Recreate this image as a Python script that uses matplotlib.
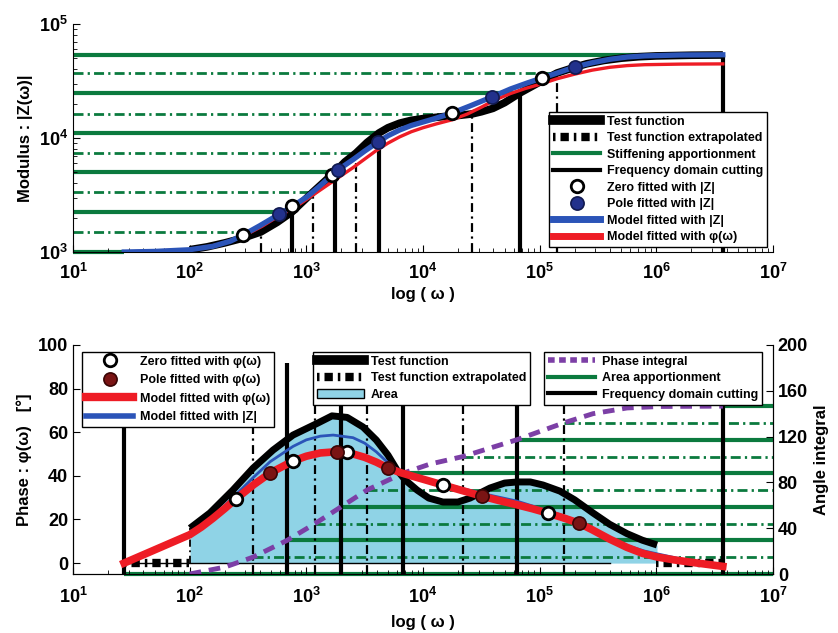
import numpy as np
import matplotlib
matplotlib.use('Agg')
import matplotlib.pyplot as plt
from matplotlib.lines import Line2D
from matplotlib.patches import Patch
from matplotlib.ticker import FuncFormatter, FixedLocator, NullFormatter

plt.rcParams['font.family'] = ['Liberation Sans', 'DejaVu Sans']
plt.rcParams['font.weight'] = 'bold'
plt.rcParams['mathtext.fontset'] = 'custom'
plt.rcParams['mathtext.rm'] = 'Liberation Sans:bold'
plt.rcParams['mathtext.bf'] = 'Liberation Sans:bold'
plt.rcParams['mathtext.it'] = 'Liberation Sans:italic:bold'
plt.rcParams['lines.solid_joinstyle'] = 'round'

# ---------------- data: modulus plot ----------------
w_test_mod = [100, 141, 200, 282, 408, 562, 753, 1140, 1413, 1762, 2138, 2667, 3311, 4198,
              5012, 6310, 7943, 10000, 12590, 15850, 19950, 26300, 31620, 39810, 50120,
              67760, 100000, 140900, 199500, 251200, 354800, 501200, 707900, 1.0e6,
              2.0e6, 3.72e6]
z_test_mod = [1047, 1109, 1202, 1318, 1500, 1820, 2244, 3357, 4102, 5035, 6166, 7379, 9120,
              11070, 12300, 13490, 14290, 14790, 15140, 15490, 15740, 16250, 16980, 18200,
              20420, 24830, 30900, 37150, 41690, 44670, 47860, 50120, 51640, 52480,
              53210, 53460]

w_model_Z = [27.5, 50, 100, 158, 224, 288, 398, 589, 759, 1000, 1259, 1585, 1862, 2512,
             3162, 4111, 5012, 6310, 7943, 10000, 12590, 17740, 25120, 39000, 56230, 79430,
             104700, 141300, 201000, 281800, 398100, 562300, 794300, 1.585e6, 3.715e6]
z_model_Z = [1000, 1012, 1047, 1122, 1245, 1413, 1698, 2153, 2512, 3020, 3673, 4519, 5236,
             6457, 7674, 9226, 10470, 11750, 12880, 13800, 14790, 16560, 19050, 22910,
             26920, 30550, 33570, 37150, 41980, 45710, 48980, 51290, 52480, 53460, 53700]

w_model_phi = [27.5, 100, 178, 288, 417, 589, 794, 1000, 1259, 1585, 1995, 2512, 3162, 3981,
               5012, 6310, 7943, 10000, 13180, 17780, 23990, 31620, 41690, 56230, 75860,
               100000, 141300, 199500, 281800, 398100, 562300, 794300, 1.585e6, 3.715e6]
z_model_phi = [1000, 1047, 1161, 1380, 1679, 2089, 2455, 2884, 3388, 3981, 4677, 5495, 6531,
               7762, 9016, 10230, 11350, 12300, 13340, 14450, 16220, 18620, 21630, 24550,
               27230, 29510, 33110, 36310, 39360, 41690, 43150, 43950, 44460, 44670]

w_zero_Z = [286, 753, 1660, 17740, 104700]
z_zero_Z = [1410, 2535, 4730, 16560, 33600]
w_pole_Z = [583, 1866, 4110, 39000, 201000]
z_pole_Z = [2150, 5240, 9230, 22900, 42000]

stiff_levels = [1000, 1500, 2245, 3360, 5030, 7380, 11070, 16250, 24800, 37200, 53500]
stiff_cut_w = [27.5, 408, 753, 1140, 1760, 2670, 4200, 26300, 67700, 141000, 3.72e6]

# ---------------- data: phase plot ----------------
w_test_ph = [100.7, 149.3, 235, 349, 518, 769, 1233, 1660, 2239, 3062, 3981, 5012, 5984,
             7079, 8892, 11220, 14830, 19950, 25290, 37500, 50120, 63970, 83180, 106900,
             149300, 199500, 286400, 398100, 561000, 758600, 1.014e6]
ph_test = [16, 23, 33.5, 43.5, 51.8, 58.7, 64, 67.5, 66.8, 62.4, 56.4, 49.5, 42.7, 38,
           33.5, 29.8, 28, 28, 29.8, 34.4, 36.7, 37.2, 37.2, 35.8, 33, 29, 23, 17.8,
           13.5, 10.5, 8.3]

w_phi_model = [27.4, 100, 126, 158, 200, 249, 355, 489, 769, 1000, 1318, 1762, 2239, 3162,
               3981, 5012, 6310, 7943, 10720, 14830, 21880, 32060, 44670, 63100, 87100,
               117800, 158500, 217300, 281800, 398100, 561000, 758600, 1.014e6, 1.413e6,
               2.042e6, 3.715e6]
ph_phi_model = [0, 13, 16.5, 20.5, 25, 29.4, 36, 41.3, 46.8, 49, 50.5, 51, 50.8, 48.5,
                46.3, 43.6, 41.6, 40, 38, 35.8, 33.2, 30.7, 28.7, 26.8, 24.9, 22.9, 20.8,
                18.3, 15.3, 11, 7.2, 4.5, 2.8, 1.5, 0.3, -1.5]

w_Z_model = [100, 158, 251, 355, 490, 769, 1000, 1318, 1698, 2512, 3162, 3981, 4786, 5623,
             6607, 7943, 14790, 31620, 63100, 117500, 158500, 218800, 281800, 398100,
             562300, 794300, 1.585e6, 3.715e6]
ph_Z_model = [13.5, 21, 31.5, 39.5, 46.5, 53.5, 56.5, 58.2, 58.7, 57.5, 55, 51, 47, 44,
              42, 40.5, 36.5, 32, 28.5, 24, 21.8, 19, 15.8, 11.5, 8, 5.5, 2, -1.5]

w_zero_ph = [249, 769, 2234, 14830, 117800]
ph_zero = [29.4, 46.8, 50.8, 35.8, 22.9]
w_pole_ph = [489, 1832, 5012, 32060, 217300]
ph_pole = [41.3, 51, 43.6, 30.7, 18.3]

w_integral = [100, 200, 349, 682, 1186, 1982, 3311, 6745, 11480, 22030, 63970, 161400,
              286400, 561000, 1.074e6, 3.724e6]
angle_integral = [0, 6, 14.7, 29.3, 44, 58.6, 73.3, 88, 96, 102.6, 117.3, 132,
                  140, 145, 146.3, 146.6]

area_levels = [0, 14.7, 29.3, 44, 58.6, 73.3, 88, 102.6, 117.3, 132, 146.6]
area_cut_w = [27.4, 349, 682, 1186, 1982, 3311, 6745, 22030, 63970, 161400, 3.724e6]
cut_top = 184          # top of cutting lines (angle-integral units)

w_extrap_low = [27.4, 100]
w_extrap_high = [1.0e6, 3.72e6]
zero_line_w = [27.4, 4.0e5]

x_decades = [1e1, 1e2, 1e3, 1e4, 1e5, 1e6, 1e7]
y_decades = [1e3, 1e4, 1e5]
phase_ticks = [0, 20, 40, 60, 80, 100]
angle_ticks = [0, 40, 80, 120, 160, 200]

# ---------------- styles ----------------
GREEN = '#0b7a3e'
BLUE = '#2b54b8'
RED = '#ee1c25'
PURPLE = '#7c3fa6'
FILL = '#8fd3e6'
NAVY = '#22318c'
DARKRED = '#7a1414'
DASHDOT_G = (0, (3.6, 1.5, 0.8, 1.5))
DASHDOT_K = (0, (4, 2, 1, 2))
EXTRAP = (0, (0.3, 0.6, 1.0, 0.6))

TICK_FS = 13
LAB_FS = 12
LEG_FS = 9

def logfmt(v, pos):
    return r'$\mathbf{10^{%d}}$' % int(round(np.log10(v)))

def minor_between(decades):
    return [d * k for d in decades[:-1] for k in range(2, 10)]

def style_logx(ax):
    ax.set_xscale('log')
    ax.set_xlim(x_decades[0], x_decades[-1])
    ax.xaxis.set_major_locator(FixedLocator(x_decades))
    ax.xaxis.set_minor_locator(FixedLocator(minor_between(x_decades)))
    ax.xaxis.set_major_formatter(FuncFormatter(logfmt))
    ax.xaxis.set_minor_formatter(NullFormatter())

fig = plt.figure(figsize=(8.38, 6.33), dpi=100)

# ================= top: modulus =================
ax1 = fig.add_axes([0.0871, 0.6019, 0.8353, 0.3602])
style_logx(ax1)
ax1.set_yscale('log')
ax1.set_ylim(y_decades[0], y_decades[-1])
ax1.yaxis.set_major_locator(FixedLocator(y_decades))
ax1.yaxis.set_minor_locator(FixedLocator(minor_between(y_decades)))
ax1.yaxis.set_major_formatter(FuncFormatter(logfmt))
ax1.yaxis.set_minor_formatter(NullFormatter())

for i, (lev, wc) in enumerate(zip(stiff_levels, stiff_cut_w)):
    solid = (i % 2 == 0)
    ax1.plot([x_decades[0], wc], [lev, lev], color=GREEN, lw=3 if solid else 2,
             ls='-' if solid else DASHDOT_G, zorder=1, clip_on=False,
             solid_capstyle='butt')
    if i > 0:
        ax1.plot([wc, wc], [y_decades[0], lev], color='black', lw=3 if solid else 1.6,
                 ls='-' if solid else DASHDOT_K, zorder=2, solid_capstyle='butt')

ax1.plot(w_test_mod, z_test_mod, color='black', lw=5.5, zorder=3, solid_capstyle='butt')
ax1.plot(w_model_phi, z_model_phi, color=RED, lw=2.4, zorder=4)
ax1.plot(w_model_Z, z_model_Z, color=BLUE, lw=3.8, zorder=5)
ax1.plot(w_zero_Z, z_zero_Z, ls='none', marker='o', ms=9, mfc='white', mec='black',
         mew=2, zorder=6)
ax1.plot(w_pole_Z, z_pole_Z, ls='none', marker='o', ms=9.5, mfc=NAVY, mec='#111a50',
         mew=1.2, zorder=6)

for s in ['top', 'right']:
    ax1.spines[s].set_visible(False)
ax1.tick_params(which='both', direction='in', labelsize=TICK_FS)
ax1.tick_params(which='major', length=5)
ax1.tick_params(which='minor', length=3)
ax1.tick_params(axis='x', pad=8)
ax1.set_xlabel('log ( ω )', fontsize=LAB_FS, fontweight='bold', labelpad=3)
ax1.set_ylabel('Modulus : |Z(ω)|', fontsize=LAB_FS, fontweight='bold', labelpad=4)

leg_kw = dict(frameon=True, fancybox=False, edgecolor='black', framealpha=1,
              handlelength=3.8, handletextpad=0.5, borderpad=0.3,
              borderaxespad=0, prop={'size': LEG_FS, 'weight': 'bold'})

h_top = [
    Line2D([], [], color='black', lw=7),
    Line2D([], [], color='black', lw=6, ls=EXTRAP),
    Line2D([], [], color=GREEN, lw=3),
    Line2D([], [], color='black', lw=3),
    Line2D([], [], ls='none', marker='o', ms=9, mfc='white', mec='black', mew=2),
    Line2D([], [], ls='none', marker='o', ms=9.5, mfc=NAVY, mec='#111a50', mew=1.2),
    Line2D([], [], color=BLUE, lw=5),
    Line2D([], [], color=RED, lw=5),
]
l_top = ['Test function', 'Test function extrapolated', 'Stiffening apportionment',
         'Frequency domain cutting', 'Zero fitted with |Z|', 'Pole fitted with |Z|',
         'Model fitted with |Z|', 'Model fitted with φ(ω)']
lg = ax1.legend(h_top, l_top, loc='lower right', bbox_to_anchor=(0.991, 0.022),
                labelspacing=0.36, **leg_kw)
lg.get_frame().set_linewidth(1.0)
lg.set_zorder(10)

# ================= bottom: phase =================
ax = fig.add_axes([0.0871, 0.0932, 0.8353, 0.3618])
ax2 = ax.twinx()
ax.set_zorder(ax2.get_zorder() + 1)
ax.patch.set_visible(False)

style_logx(ax)
ax.set_ylim(-5, 100)
ax.set_yticks(phase_ticks)
ax2.set_ylim(0, 200)
ax2.set_yticks(angle_ticks)
ax2.set_xlim(x_decades[0], x_decades[-1])
ax.set_autoscale_on(False)
T2 = ax2.transData   # angle-integral scale

# area fill (lowest)
ax.fill_between(w_test_ph, 0, ph_test, color=FILL, lw=0, zorder=0.5)

# area apportionment lines and frequency-domain cutting (angle-integral units)
for i, (lev, wc) in enumerate(zip(area_levels, area_cut_w)):
    solid = (i % 2 == 0)
    ax.plot([wc, x_decades[-1]], [lev, lev], color=GREEN, lw=3 if solid else 2,
            ls='-' if solid else DASHDOT_G, zorder=1.2, clip_on=False,
            solid_capstyle='butt', transform=T2)
    ax.plot([wc, wc], [0, cut_top], color='black', lw=3 if solid else 1.6,
            ls='-' if solid else DASHDOT_K, zorder=1.4, solid_capstyle='butt',
            transform=T2)

ax.plot(w_integral, angle_integral, color=PURPLE, lw=3.5, ls=(0, (2.4, 1.6)), zorder=1.6,
        transform=T2)

# phase curves
ax.plot(zero_line_w, [0, 0], color='black', lw=1, zorder=1.3)
ax.plot([w_test_ph[0], w_test_ph[0]], [0, ph_test[0]], color='black', lw=1.3,
        ls=DASHDOT_K, zorder=1.3)
ax.plot(w_extrap_low, [0, 0], color='black', lw=6, ls=EXTRAP, zorder=2)
ax.plot(w_extrap_high, [0, 0], color='black', lw=6, ls=EXTRAP, zorder=2)
ax.plot(w_test_ph, ph_test, color='black', lw=5, zorder=3, solid_capstyle='butt')
ax.plot(w_Z_model, ph_Z_model, color=BLUE, lw=2, zorder=4)
ax.plot(w_phi_model, ph_phi_model, color=RED, lw=5.5, zorder=5)
ax.plot(w_zero_ph, ph_zero, ls='none', marker='o', ms=9, mfc='white', mec='black',
        mew=2, zorder=6)
ax.plot(w_pole_ph, ph_pole, ls='none', marker='o', ms=9.5, mfc=DARKRED, mec='#3a0505',
        mew=1.2, zorder=6)

ax.spines['top'].set_visible(False)
ax2.spines['top'].set_visible(False)
ax.tick_params(which='both', direction='in', labelsize=TICK_FS, right=False)
ax.tick_params(which='major', length=5)
ax.tick_params(which='minor', length=3)
ax.tick_params(axis='x', pad=9)
ax2.tick_params(axis='y', direction='in', labelsize=TICK_FS, length=5)
ax2.tick_params(axis='x', which='both', bottom=False, labelbottom=False)
ax.set_xlabel('log ( ω )', fontsize=LAB_FS, fontweight='bold', labelpad=6)
ax.set_ylabel('Phase : φ(ω)   [°]', fontsize=LAB_FS, fontweight='bold', labelpad=4)
ax2.set_ylabel('Angle integral', fontsize=LAB_FS, fontweight='bold', labelpad=4)

h1 = [
    Line2D([], [], ls='none', marker='o', ms=9, mfc='white', mec='black', mew=2),
    Line2D([], [], ls='none', marker='o', ms=9.5, mfc=DARKRED, mec='#3a0505', mew=1.2),
    Line2D([], [], color=RED, lw=6),
    Line2D([], [], color=BLUE, lw=4),
]
l1 = ['Zero fitted with φ(ω)', 'Pole fitted with φ(ω)', 'Model fitted with φ(ω)',
      'Model fitted with |Z|']
h2 = [
    Line2D([], [], color='black', lw=7),
    Line2D([], [], color='black', lw=6, ls=EXTRAP),
    Patch(facecolor=FILL, edgecolor='black', lw=1),
]
l2 = ['Test function', 'Test function extrapolated', 'Area']
h3 = [
    Line2D([], [], color=PURPLE, lw=4, ls=(0, (1.2, 0.8))),
    Line2D([], [], color=GREEN, lw=3),
    Line2D([], [], color='black', lw=3),
]
l3 = ['Phase integral', 'Area apportionment', 'Frequency domain cutting']

legs = []
for h, l, anchor, ls_ in [(h1, l1, (0.0129, 0.969), 0.52), (h2, l2, (0.343, 0.969), 0.36),
                          (h3, l3, (0.673, 0.969), 0.36)]:
    lgb = ax.legend(h, l, loc='upper left', bbox_to_anchor=anchor, labelspacing=ls_,
                    **leg_kw)
    lgb.get_frame().set_linewidth(1.0)
    lgb.set_zorder(10)
    legs.append(lgb)
for lgb in legs[:-1]:
    ax.add_artist(lgb)

fig.savefig('out.png', dpi=100)
